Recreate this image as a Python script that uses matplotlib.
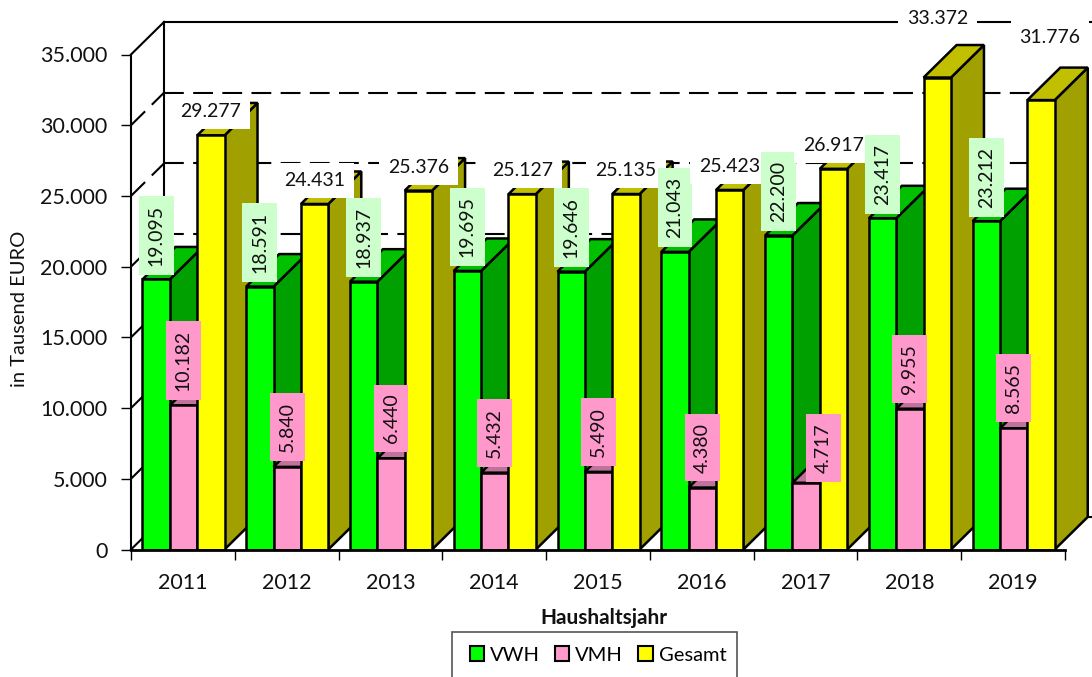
import matplotlib
matplotlib.use('Agg')
import matplotlib.pyplot as plt
from matplotlib.patches import Polygon, Patch, Rectangle

plt.rcParams['font.family'] = ['Lato', 'DejaVu Sans']

########## data ##########
years = ['2011', '2012', '2013', '2014', '2015', '2016', '2017', '2018', '2019']
vwh = [19095, 18591, 18937, 19695, 19646, 21043, 22200, 23417, 23212]
vmh = [10182, 5840, 6440, 5432, 5490, 4380, 4717, 9955, 8565]
gesamt = [29277, 24431, 25376, 25127, 25135, 25423, 26917, 33372, 31776]
yticks = [0, 5000, 10000, 15000, 20000, 25000, 30000, 35000]
series_names = ['VWH', 'VMH', 'Gesamt']


def de_format(v):
    return f'{v:,}'.replace(',', '.')


W, H = 1092, 677
fig = plt.figure(figsize=(W / 100, H / 100), dpi=100)
# plot area in pixels: x 131..1065, y 54.5..549.5
ax = fig.add_axes([131 / W, 1 - 549.5 / H, 934 / W, 495 / H])
ax.set_xlim(0, 9)
ax.set_ylim(0, 35000)
ax.patch.set_visible(False)

# depth of the fake 3d look
dx = 33 / (934 / 9)
dy = 32.5 / (495 / 35000)
bar_w = 0.2637
gap = 0.11
lw = 1.8
xmax_wall = 9 + dx

# walls
for t in yticks:
    ls = '-' if t in (0, 35000) else (0, (9.5, 4.5))
    ax.plot([dx, xmax_wall], [t + dy, t + dy], color='k', lw=1.5, ls=ls, clip_on=False, zorder=1)
    ax.plot([0, dx], [t, t + dy], color='k', lw=1.5, ls=ls, clip_on=False, zorder=1)
ax.plot([dx, dx], [dy, 35000 + dy], color='k', lw=1.5, clip_on=False, zorder=1)


def draw_box(x, h, front, top, side, z):
    ax.add_patch(Polygon([(x + bar_w, 0), (x + bar_w + dx, dy), (x + bar_w + dx, h + dy), (x + bar_w, h)],
                         fc=side, ec='k', lw=lw, zorder=z, clip_on=False))
    ax.add_patch(Polygon([(x, h), (x + dx, h + dy), (x + bar_w + dx, h + dy), (x + bar_w, h)],
                         fc=top, ec='k', lw=lw, zorder=z, clip_on=False))
    ax.bar(x, h, width=bar_w, align='edge', color=front, edgecolor='k', linewidth=lw, zorder=z + 0.1)


colors = [('#00FF00', '#00C000', '#00A000'),
          ('#FF99CC', '#C0739A', '#C0739A'),
          ('#FFFF00', '#C0C000', '#A0A000')]

z = 2
for i in range(len(years)):
    for j, vals in enumerate([vwh, vmh, gesamt]):
        x = i + gap + j * bar_w
        draw_box(x, vals[i], colors[j][0], colors[j][1], colors[j][2], z)
        z += 1


# data labels
def label(x, v, fc, rot, off=(0, 0)):
    ax.annotate(de_format(v), xy=(x, v), xytext=off, textcoords='offset points',
                ha='center', va='center', rotation=rot, fontsize=14, color='#111111',
                bbox=dict(boxstyle='square,pad=0.46', fc=fc, ec='none'),
                annotation_clip=False, zorder=500)


px = 0.72  # points per pixel
for i in range(len(years)):
    c = i + gap
    label(c + bar_w * 0.5, vwh[i], '#CCFFCC', 90, (0, 44 * px))
    off = (0, (45 if vmh[i] >= 10000 else 40) * px)
    if years[i] == '2017':
        off = (17 * px, 35 * px)
    label(c + bar_w * 1.5, vmh[i], '#FF99CC', 90, off)
    off = (0, 23.5 * px)
    if years[i] == '2018':
        off = (0, 59.5 * px)
    if years[i] == '2019':
        off = (9 * px, 63 * px)
    label(c + bar_w * 2.5, gesamt[i], 'white', 0, off)

# axes
for s in ['top', 'right']:
    ax.spines[s].set_visible(False)
ax.spines['left'].set_linewidth(1.5)
ax.spines['bottom'].set_linewidth(2)
ax.spines['bottom'].set_zorder(400)
ax.set_yticks(yticks)
ax.set_yticklabels([de_format(t) if t else '0' for t in yticks], fontsize=15.5, color='#111111')
ax.set_xticks(range(10))
ax.set_xticklabels([])
ax.set_xticks([i + 0.5 for i in range(9)], minor=True)
ax.set_xticklabels(years, minor=True, fontsize=15.5, color='#111111')
ax.tick_params(axis='x', which='minor', length=0, pad=17)
ax.tick_params(axis='x', which='major', length=7, width=1, direction='out')
ax.tick_params(axis='y', length=7, width=1, pad=10)

fig.text(20 / W, 1 - 309 / H, 'in Tausend EURO', rotation=90, ha='center', va='center', fontsize=14.5, color='#111111')
fig.text(604 / W, 1 - 618 / H, 'Haushaltsjahr', ha='center', va='center', fontsize=15, fontweight='bold', color='#111111')

# legend frame runs off the bottom of the picture
fig.add_artist(Rectangle((452 / W, -0.05), 285 / W, 1 - 632 / H + 0.05, transform=fig.transFigure,
                         fc='white', ec='#555555', lw=1.2))
handles = [Patch(fc=colors[k][0], ec='k', lw=1.5, label=series_names[k]) for k in range(3)]
leg = fig.legend(handles=handles, ncol=3, loc='center left', bbox_to_anchor=(464 / W, 1 - 655 / H), fontsize=14.5,
                 frameon=False, handlelength=0.7, handleheight=0.7,
                 columnspacing=0.75, handletextpad=0.3, borderpad=0.3, borderaxespad=0)
leg.set_zorder(10)

fig.savefig('out.png', dpi=100)
